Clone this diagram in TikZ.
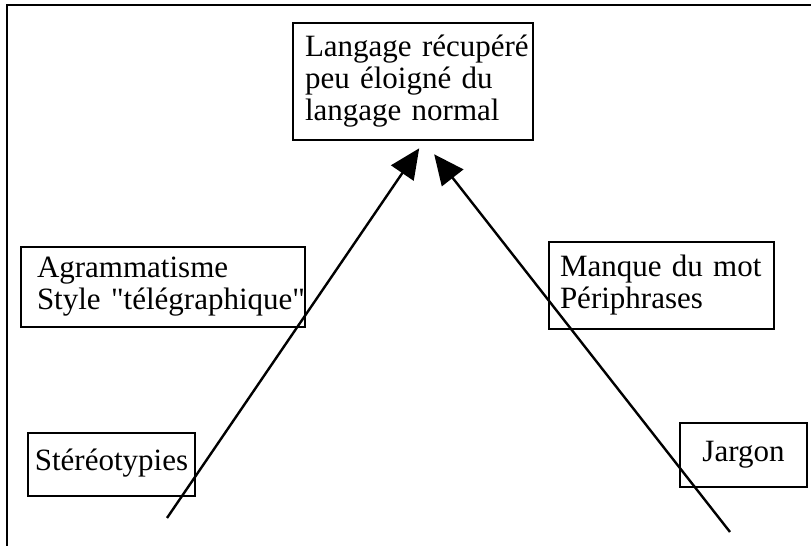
\documentclass[tikz,border=0pt]{standalone}
\usepackage{fontspec}
\setmainfont{Liberation Serif}[Ligatures=TeXOff]
\usepackage{tikz}
\usetikzlibrary{positioning,arrows.meta}

\begin{document}
\begin{tikzpicture}[x=1pt, y=1pt,
    labelbox/.style={draw, line width=2.6pt, inner ysep=0pt, align=left,
      font=\fontsize{31}{32}\selectfont},
    arr/.style={-{Triangle[length=30pt, width=27pt]}, line width=2.4pt}]
  \useasboundingbox (0,0) rectangle (811,546);
  % frame, only top and left edges show
  \draw[line width=2.6pt] (7,0) -- (7,541) -- (811,541);

  \node[labelbox, text width=216pt, inner xsep=12pt, minimum height=117pt]
    (top) at (413,464.5) {\mbox{Langage récupéré}\\\mbox{peu éloigné du}\\\mbox{langage normal}};
  \node[labelbox, text width=252pt, inner xsep=16pt, minimum height=80pt]
    (agram) at (163,259) {\mbox{Agrammatisme}\\\mbox{Style "télégraphique"}};
  \node[labelbox, text width=203pt, inner xsep=11pt, minimum height=87pt]
    (manque) at (661.5,260.5) {\mbox{Manque du mot}\\\mbox{Périphrases}};
  \node[labelbox, align=center, text width=159pt, inner xsep=4pt, minimum height=63pt]
    (stereo) at (111.5,81.5) {\strut Stéréotypies};
  \node[labelbox, align=center, text width=111pt, inner xsep=8pt, minimum height=64pt]
    (jargon) at (743.5,91) {\strut Jargon};

  \coordinate (lfoot) at (167,28);
  \coordinate (rfoot) at (730,14);
  \draw[arr, shorten >=8.5pt] (lfoot) -- ([xshift=11pt]top.south);
  \draw[arr, shorten >=16.5pt] (rfoot) -- ([xshift=11pt]top.south);
\end{tikzpicture}
\end{document}
